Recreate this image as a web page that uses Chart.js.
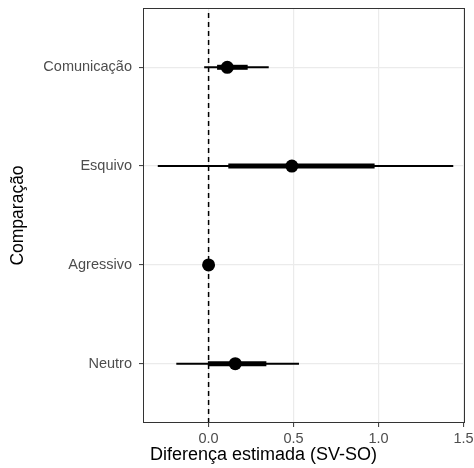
<!DOCTYPE html>
<html>
<head>
<meta charset="utf-8">
<script src="https://cdn.jsdelivr.net/npm/chart.js@4.4.1/dist/chart.umd.min.js"></script>
<style>
  html, body { margin: 0; padding: 0; background: #fff; }
  #wrap { position: relative; width: 474px; height: 468px; }
  #xTitle {
    position: absolute; left: 150px; top: 445px;
    font: 18px 'Liberation Sans', Arial, sans-serif; line-height: 18px;
    color: #000; white-space: nowrap;
  }
</style>
</head>
<body>
<div id="wrap">
  <canvas id="forestChart" width="474" height="468"></canvas>
  <div id="xTitle">Diferença estimada (SV-SO)</div>
</div>
<script>
// ── Données ──
const categories = ['Comunicação', 'Esquivo', 'Agressivo', 'Neutro'];
const estimate  = [0.11, 0.49, 0.0, 0.157];
const innerLo   = [0.05, 0.116, -0.004, -0.004];
const innerHi   = [0.23, 0.977, 0.004, 0.34];
const outerLo   = [-0.026, -0.299, -0.008, -0.19];
const outerHi   = [0.354, 1.44, 0.008, 0.532];
const xTicks    = [0, 0.5, 1.0, 1.5];
const refValue  = 0;

const FONT = "'Liberation Sans', Arial, sans-serif";
const yPos = i => categories.length - 1 - i;   // Comunicação en haut

const datasets = [];

// ligne de référence pointillée
datasets.push({
  data: [{ x: refValue, y: -0.6 }, { x: refValue, y: 3.6 }],
  showLine: true, borderColor: '#000', borderWidth: 1.5, borderDash: [5, 4],
  pointRadius: 0, order: 3
});

// intervalles externes (fins) et internes (épais)
categories.forEach((c, i) => {
  datasets.push({
    data: [{ x: outerLo[i], y: yPos(i) }, { x: outerHi[i], y: yPos(i) }],
    showLine: true, borderColor: '#000', borderWidth: 2, pointRadius: 0, order: 2
  });
  datasets.push({
    data: [{ x: innerLo[i], y: yPos(i) }, { x: innerHi[i], y: yPos(i) }],
    showLine: true, borderColor: '#000', borderWidth: 5, pointRadius: 0, order: 2
  });
});

// estimations ponctuelles
datasets.push({
  data: estimate.map((v, i) => ({ x: v, y: yPos(i) })),
  showLine: false, pointRadius: 6.5, backgroundColor: '#000', borderWidth: 0, order: 1
});

const panelBorder = {
  id: 'panelBorder',
  afterDraw(chart) {
    const { ctx, chartArea: a } = chart;
    ctx.save();
    ctx.strokeStyle = '#333333';
    ctx.lineWidth = 1;
    ctx.strokeRect(a.left + 0.5, a.top + 0.5, a.right - a.left - 1, a.bottom - a.top - 1);
    ctx.restore();
  }
};

new Chart(document.getElementById('forestChart'), {
  type: 'scatter',
  data: { datasets },
  plugins: [panelBorder],
  options: {
    responsive: false,
    animation: false,
    layout: { padding: { top: 8, right: 9, left: 0, bottom: 0 } },
    plugins: { legend: { display: false }, tooltip: { enabled: false } },
    scales: {
      x: {
        type: 'linear', min: -0.386, max: 1.509,
        afterBuildTicks: s => { s.ticks = xTicks.map(v => ({ value: v })); },
        afterFit: s => { s.height = 45; s.paddingLeft = 0; s.paddingRight = 0; },
        ticks: {
          color: '#4D4D4D', font: { family: FONT, size: 14.5 }, padding: 3,
          callback: v => Number(v).toFixed(1)
        },
        grid: { color: '#EBEBEB', lineWidth: 1.2, tickColor: '#333333', tickLength: 4, tickWidth: 1 },
        border: { display: false }
      },
      y: {
        type: 'linear', min: -0.6, max: 3.6,
        afterBuildTicks: s => { s.ticks = categories.map((c, i) => ({ value: i })); },
        afterFit: s => { s.width = 143; s.paddingTop = 0; s.paddingBottom = 0; },
        ticks: {
          color: '#4D4D4D', font: { family: FONT, size: 14.5 }, padding: 7, autoSkip: false,
          callback: v => categories[categories.length - 1 - v]
        },
        grid: { color: '#EBEBEB', lineWidth: 1.2, tickColor: '#333333', tickLength: 4, tickWidth: 1 },
        border: { display: false },
        title: {
          display: true, text: 'Comparação', color: '#000',
          font: { family: FONT, size: 17.5 }, padding: { top: 8, bottom: 0 }
        }
      }
    }
  }
});
</script>
</body>
</html>
